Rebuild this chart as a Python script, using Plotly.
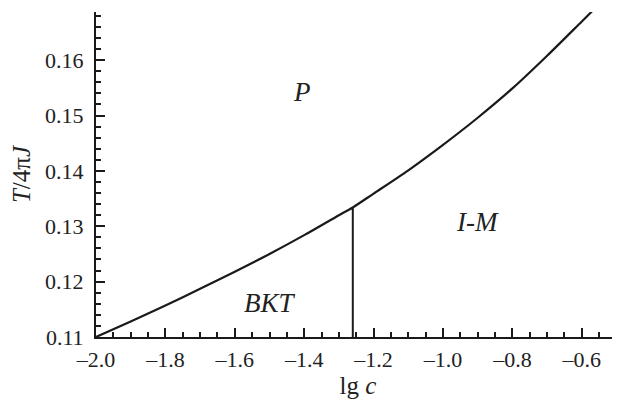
import plotly.graph_objects as go

# Boundary curve T/4piJ vs lg c
lg_c = [-2.0, -1.9, -1.8, -1.7, -1.6, -1.5, -1.4, -1.3, -1.26, -1.2, -1.1, -1.0, -0.9, -0.8, -0.7, -0.6, -0.571]
T_curve = [0.1100, 0.1128, 0.1157, 0.1187, 0.1218, 0.1250, 0.1284, 0.1320, 0.1334, 0.1359, 0.1401, 0.1447, 0.1496, 0.1549, 0.1608, 0.1670, 0.1688]

# Vertical BKT / I-M boundary
vline_x = [-1.26, -1.26]
vline_T = [0.1100, 0.1334]

# Region labels
region_names = ["<i>P</i>", "<i>I-M</i>", "<i>BKT</i>"]
region_x = [-1.406, -0.902, -1.499]
region_y = [0.1542, 0.1308, 0.1162]

x_tickvals = [-2.0, -1.8, -1.6, -1.4, -1.2, -1.0, -0.8, -0.6]
x_ticktext = ["–2.0", "–1.8", "–1.6", "–1.4", "–1.2", "–1.0", "–0.8", "–0.6"]
y_tickvals = [0.11, 0.12, 0.13, 0.14, 0.15, 0.16]
y_ticktext = ["0.11", "0.12", "0.13", "0.14", "0.15", "0.16"]

FONT = "Liberation Serif"
INK = "#1a1a1a"

fig = go.Figure()
fig.add_trace(go.Scatter(x=lg_c, y=T_curve, mode="lines", line=dict(color=INK, width=2.2, shape="spline", smoothing=0.8),
                         showlegend=False, hoverinfo="skip"))
fig.add_trace(go.Scatter(x=vline_x, y=vline_T, mode="lines", line=dict(color=INK, width=2),
                         showlegend=False, hoverinfo="skip"))

for name, xx, yy in zip(region_names, region_x, region_y):
    fig.add_annotation(x=xx, y=yy, text=name, showarrow=False,
                       font=dict(family=FONT, size=27, color="#222"))

fig.update_xaxes(range=[-2.0, -0.49], showline=True, linecolor=INK, linewidth=2,
                 ticks="inside", ticklen=9, tickwidth=1.5, tickcolor=INK,
                 tickvals=x_tickvals, ticktext=x_ticktext,
                 minor=dict(ticks="inside", dtick=0.05, tick0=-2.0, ticklen=5, tickwidth=1.5, tickcolor=INK),
                 showgrid=False, zeroline=False, automargin=False,
                 tickfont=dict(family=FONT, size=22, color="#222"), ticklabelstandoff=2,
                 title=dict(text="lg <i>c</i>", font=dict(family=FONT, size=25, color="#222"), standoff=1))
fig.update_yaxes(range=[0.11, 0.1687], showline=True, linecolor=INK, linewidth=2,
                 ticks="inside", ticklen=9, tickwidth=1.5, tickcolor=INK,
                 tickvals=y_tickvals, ticktext=y_ticktext,
                 minor=dict(ticks="inside", dtick=0.002, tick0=0.11, ticklen=5, tickwidth=1.5, tickcolor=INK),
                 showgrid=False, zeroline=False, automargin=False,
                 tickfont=dict(family=FONT, size=22, color="#222"),
                 ticklabelstandoff=6,
                 title=dict(text="<i>T</i>/4π<i>J</i>", font=dict(family=FONT, size=25, color="#222"), standoff=9))

# page body adds an 8px offset; margins compensate so the plot area lands where the reference has it
fig.update_layout(width=620, height=403, margin=dict(l=88, r=8, t=4, b=74),
                  plot_bgcolor="white", paper_bgcolor="white")

fig.write_html("out.html")
